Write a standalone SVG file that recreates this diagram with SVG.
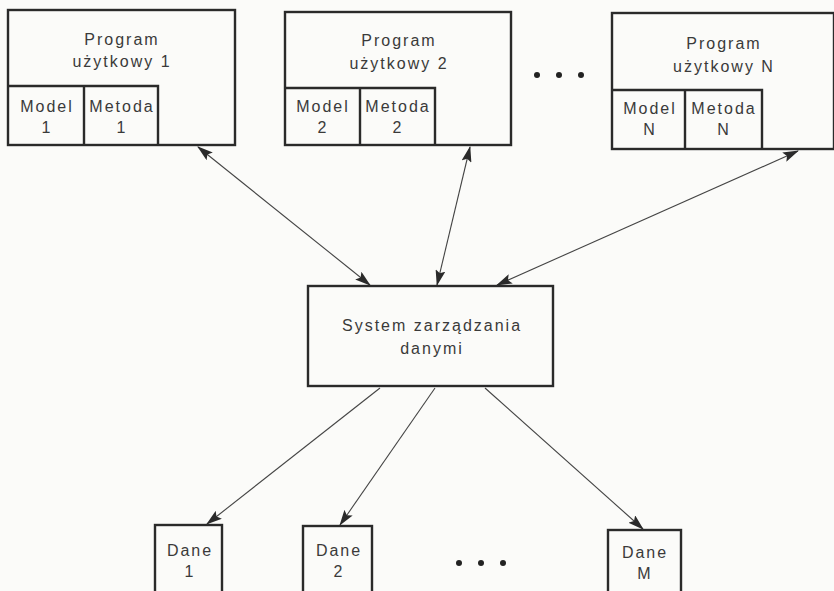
<svg xmlns="http://www.w3.org/2000/svg" width="834" height="591" viewBox="0 0 834 591">
<defs>
<style>
.b{fill:none;stroke:#2a2a2a;stroke-width:2.4}
.t{font-family:"Liberation Sans",Arial,sans-serif;font-size:16px;fill:#3a3a3a;text-anchor:middle;letter-spacing:2px}
.c{stroke:#444;stroke-width:1.1;fill:none}
.d{fill:#222}
</style>
<marker id="ah" markerWidth="16" markerHeight="10" refX="15" refY="5" orient="auto-start-reverse" markerUnits="userSpaceOnUse">
<path d="M0,0 L16,5 L0,10 L3,5 Z" fill="#2a2a2a"/>
</marker>
</defs>
<rect width="834" height="591" fill="#fbfbf9"/>
<g id="prog1">
<rect class="b" x="8" y="10" width="227" height="135"/>
<path class="b" d="M8,86 H158 V145 M84,86 V145"/>
<text class="t" x="122" y="45">Program</text>
<text class="t" x="122" y="67">użytkowy 1</text>
<text class="t" x="47" y="112">Model</text>
<text class="t" x="47" y="133">1</text>
<text class="t" x="122" y="112">Metoda</text>
<text class="t" x="122" y="133">1</text>
</g>
<g id="prog2">
<rect class="b" x="285" y="12" width="226" height="133"/>
<path class="b" d="M285,88 H435 V145 M360,88 V145"/>
<text class="t" x="399" y="46">Program</text>
<text class="t" x="399" y="69">użytkowy 2</text>
<text class="t" x="323" y="112">Model</text>
<text class="t" x="323" y="133">2</text>
<text class="t" x="398" y="112">Metoda</text>
<text class="t" x="398" y="133">2</text>
</g>
<g id="dots-top">
<circle class="d" cx="537" cy="75" r="3"/>
<circle class="d" cx="559" cy="75" r="3"/>
<circle class="d" cx="581" cy="75" r="3"/>
</g>
<g id="progN">
<rect class="b" x="612" y="13" width="222" height="136"/>
<path class="b" d="M612,90 H762 V149 M685,90 V149"/>
<text class="t" x="724" y="49">Program</text>
<text class="t" x="724" y="72">użytkowy  N</text>
<text class="t" x="650" y="114">Model</text>
<text class="t" x="650" y="135">N</text>
<text class="t" x="724" y="114">Metoda</text>
<text class="t" x="724" y="135">N</text>
</g>
<g id="system">
<rect class="b" x="308" y="286" width="245" height="100"/>
<text class="t" x="432" y="331">System  zarządzania</text>
<text class="t" x="432" y="354">danymi</text>
</g>
<g id="dane1">
<rect class="b" x="155" y="525" width="67" height="70"/>
<text class="t" x="190" y="556">Dane</text>
<text class="t" x="190" y="577">1</text>
</g>
<g id="dane2">
<rect class="b" x="303" y="526" width="69" height="69"/>
<text class="t" x="339" y="556">Dane</text>
<text class="t" x="339" y="577">2</text>
</g>
<g id="dots-bottom">
<circle class="d" cx="459" cy="563" r="3"/>
<circle class="d" cx="481" cy="563" r="3"/>
<circle class="d" cx="503" cy="563" r="3"/>
</g>
<g id="daneM">
<rect class="b" x="608" y="530" width="73" height="65"/>
<text class="t" x="645" y="558">Dane</text>
<text class="t" x="645" y="579">M</text>
</g>
<g id="connectors">
<line class="c" x1="198" y1="147" x2="370" y2="285" marker-start="url(#ah)" marker-end="url(#ah)"/>
<line class="c" x1="470" y1="147" x2="437" y2="285" marker-start="url(#ah)" marker-end="url(#ah)"/>
<line class="c" x1="798" y1="151" x2="497" y2="285" marker-start="url(#ah)" marker-end="url(#ah)"/>
<line class="c" x1="380" y1="388" x2="207" y2="524" marker-end="url(#ah)"/>
<line class="c" x1="435" y1="388" x2="340" y2="525" marker-end="url(#ah)"/>
<line class="c" x1="485" y1="388" x2="643" y2="529" marker-end="url(#ah)"/>
</g>
</svg>
